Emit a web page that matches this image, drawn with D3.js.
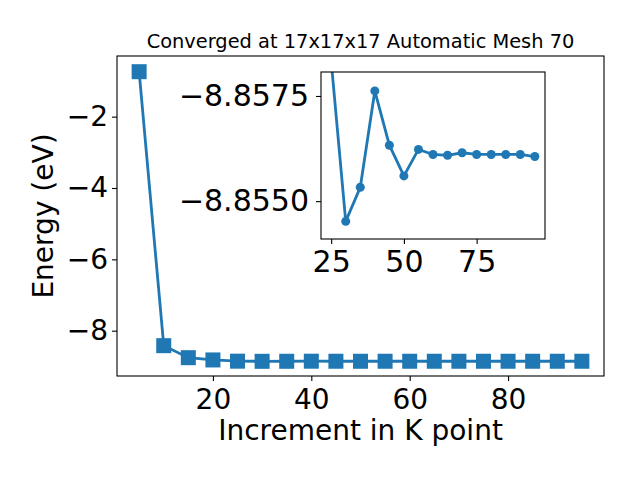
<!DOCTYPE html>
<html>
<head>
<meta charset="utf-8">
<script src="https://cdn.jsdelivr.net/npm/d3@7"></script>
<style>
  body { margin: 0; background: #fff; }
  text { font-family: "DejaVu Sans", sans-serif; fill: #000; }
</style>
</head>
<body>
<script>
// k-point increments and total energies (eV)
var kpoints = [5, 10, 15, 20, 25, 30, 35, 40, 45, 50, 55, 60, 65, 70, 75, 80, 85, 90, 95];
var energies = [-0.74, -8.42, -8.757, -8.82, -8.85417, -8.85798, -8.85717, -8.85488, -8.85617,
                -8.85690, -8.85627, -8.85639, -8.85641, -8.85635, -8.85639, -8.85639, -8.85639,
                -8.85639, -8.85644];
var mainXTicks = [20, 40, 60, 80];
var mainYTicks = [-8, -6, -4, -2];
var insetXTicks = [25, 50, 75];
// inset y tick positions and the labels printed at them in the reference
var insetYTicks = [-8.8550, -8.8575];
var insetYTickLabels = ["\u22128.8575", "\u22128.8550"];

var titleText = "Converged at 17x17x17 Automatic Mesh 70";
var xLabel = "Increment in K point";
var yLabel = "Energy (eV)";

var color = "#1f77b4";
var W = 640, H = 480;

var data = kpoints.map(function(k, i) { return { k: k, e: energies[i] }; });

var svg = d3.select("body").append("svg")
    .attr("width", W)
    .attr("height", H);

// main axes box
var box = { left: 117, top: 56, right: 604, bottom: 376 };

var x = d3.scaleLinear().domain([0.5, 99.5]).range([box.left, box.right]);
var y = d3.scaleLinear().domain([-9.27, -0.30]).range([box.bottom, box.top]);

var line = d3.line()
    .x(function(d) { return x(d.k); })
    .y(function(d) { return y(d.e); });

svg.append("path")
    .datum(data)
    .attr("d", line)
    .attr("fill", "none")
    .attr("stroke", color)
    .attr("stroke-width", 2.8);

var sq = 15;
svg.selectAll(".sq")
    .data(data)
    .enter().append("rect")
    .attr("class", "sq")
    .attr("x", function(d) { return x(d.k) - sq / 2; })
    .attr("y", function(d) { return y(d.e) - sq / 2; })
    .attr("width", sq)
    .attr("height", sq)
    .attr("fill", color);

svg.append("rect")
    .attr("x", box.left).attr("y", box.top)
    .attr("width", box.right - box.left).attr("height", box.bottom - box.top)
    .attr("fill", "none").attr("stroke", "#000").attr("stroke-width", 1.1);

function styleAxis(g, size) {
    g.select(".domain").remove();
    g.selectAll(".tick line").attr("stroke", "#000").attr("stroke-width", 1.1);
    g.selectAll(".tick text").attr("font-size", size).attr("font-family", "DejaVu Sans").attr("fill", "#000");
}

svg.append("g")
    .attr("transform", "translate(0," + box.bottom + ")")
    .call(d3.axisBottom(x).tickValues(mainXTicks).tickSize(5).tickPadding(8).tickFormat(d3.format("d")))
    .call(styleAxis, 28);

svg.append("g")
    .attr("transform", "translate(" + box.left + ",0)")
    .call(d3.axisLeft(y).tickValues(mainYTicks).tickSize(5).tickPadding(4).tickFormat(d3.format("d")))
    .call(styleAxis, 28);

svg.append("text")
    .attr("x", (box.left + box.right) / 2)
    .attr("y", 48)
    .attr("text-anchor", "middle")
    .attr("font-size", 19.4)
    .text(titleText);

svg.append("text")
    .attr("x", (box.left + box.right) / 2)
    .attr("y", 440)
    .attr("text-anchor", "middle")
    .attr("font-size", 28)
    .text(xLabel);

svg.append("text")
    .attr("transform", "translate(53," + (box.top + box.bottom) / 2 + ") rotate(-90)")
    .attr("text-anchor", "middle")
    .attr("font-size", 28)
    .text(yLabel);

// inset axes
var ibox = { left: 321, top: 72, right: 545, bottom: 239 };

var xi = d3.scaleLinear().domain([21.5, 98.5]).range([ibox.left, ibox.right]);
var yi = d3.scaleLinear().domain([-8.85840, -8.85443]).range([ibox.bottom, ibox.top]);

svg.append("rect")
    .attr("x", ibox.left).attr("y", ibox.top)
    .attr("width", ibox.right - ibox.left).attr("height", ibox.bottom - ibox.top)
    .attr("fill", "#fff");

svg.append("clipPath").attr("id", "iclip")
    .append("rect")
    .attr("x", ibox.left).attr("y", ibox.top)
    .attr("width", ibox.right - ibox.left).attr("height", ibox.bottom - ibox.top);

var ig = svg.append("g").attr("clip-path", "url(#iclip)");

ig.append("path")
    .datum(data)
    .attr("d", d3.line()
        .x(function(d) { return xi(d.k); })
        .y(function(d) { return yi(d.e); }))
    .attr("fill", "none")
    .attr("stroke", color)
    .attr("stroke-width", 2.8);

ig.selectAll(".dot")
    .data(data)
    .enter().append("circle")
    .attr("class", "dot")
    .attr("cx", function(d) { return xi(d.k); })
    .attr("cy", function(d) { return yi(d.e); })
    .attr("r", 4.5)
    .attr("fill", color);

svg.append("rect")
    .attr("x", ibox.left).attr("y", ibox.top)
    .attr("width", ibox.right - ibox.left).attr("height", ibox.bottom - ibox.top)
    .attr("fill", "none").attr("stroke", "#000").attr("stroke-width", 1.1);

svg.append("g")
    .attr("transform", "translate(0," + ibox.bottom + ")")
    .call(d3.axisBottom(xi).tickValues(insetXTicks).tickSize(5).tickPadding(7).tickFormat(d3.format("d")))
    .call(styleAxis, 30);

svg.append("g")
    .attr("transform", "translate(" + ibox.left + ",0)")
    .call(d3.axisLeft(yi).tickValues(insetYTicks).tickSize(5).tickPadding(7)
        .tickFormat(function(d, i) { return insetYTickLabels[i]; }))
    .call(styleAxis, 30);
</script>
</body>
</html>
